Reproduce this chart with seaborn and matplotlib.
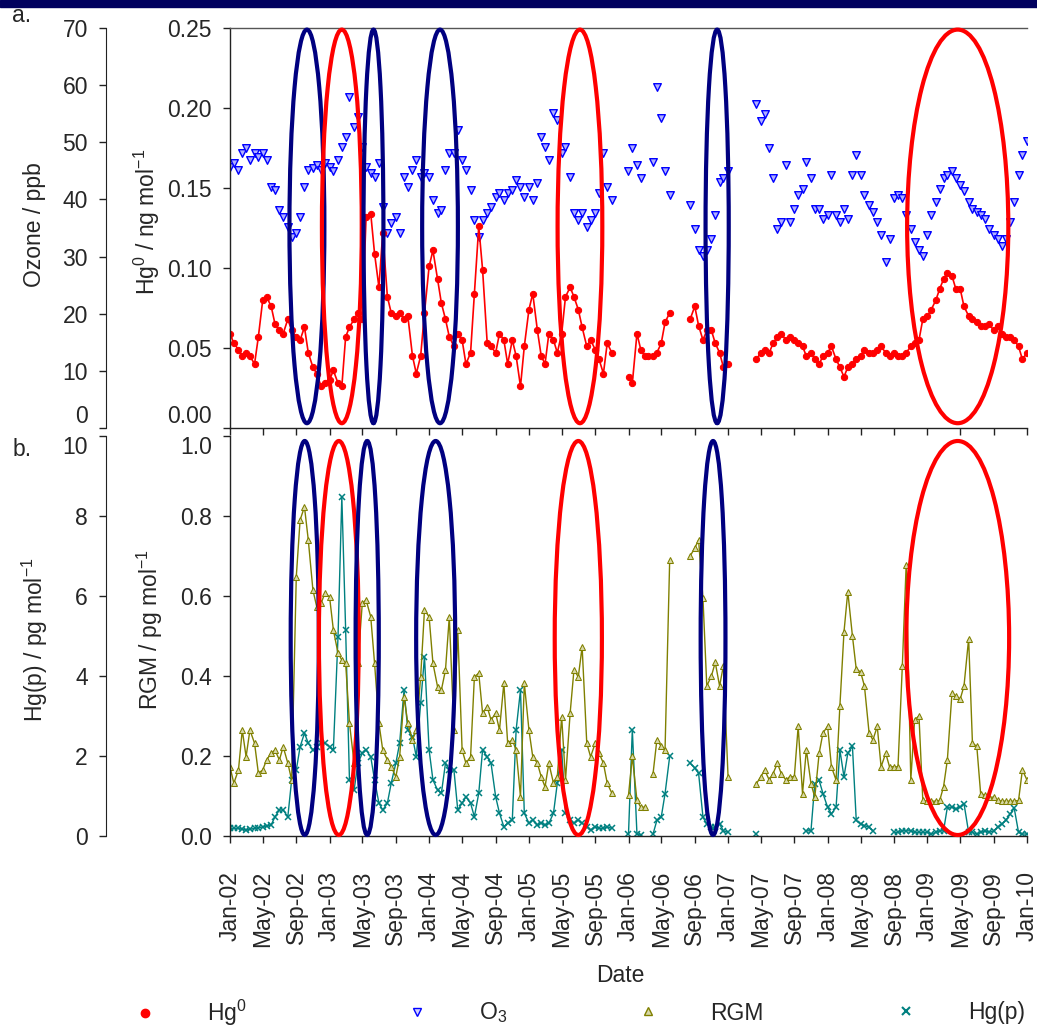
import numpy as np
import pandas as pd
import seaborn as sns
import matplotlib.pyplot as plt
import matplotlib.dates as mdates
from matplotlib.patches import Ellipse, Rectangle
from matplotlib.lines import Line2D
from matplotlib.ticker import FormatStrFormatter

nan = np.nan

# muestras quincenales (dia 1 y 15), ene-2002 .. ene-2010
fechas = pd.date_range("2002-01-01", "2010-01-01", freq="SMS")

# O3 (ppb)
o3 = [45.7, 46.4, 45.1, 48.1, 49.0, 46.9, 48.1, 47.5, 48.1, 46.9, 42.2, 41.6, 38.2, 37.0, 35.2, 33.5, 34.1, 37.0, 42.2, 45.1, 45.5, 46.0, 45.1, 46.4,
      45.7, 44.9, 46.9, 49.2, 51.0, 58.0, 52.7, 54.5, 49.2, 45.7, 44.6, 44.0, 46.4, 38.7, 34.1, 35.8, 37.0, 34.1, 44.0, 42.2, 45.1, 46.9, 44.0, 44.6,
      44.0, 39.9, 37.6, 38.2, 45.1, 48.1, 48.1, 52.2, 46.9, 45.1, 41.6, 36.4, 33.5, 36.4, 37.6, 38.7, 40.5, 41.1, 39.9, 41.1, 41.6, 43.4, 42.2, 40.5,
      42.2, 39.9, 42.9, 51.0, 49.2, 46.9, 55.1, 53.9, 48.1, 49.2, 44.0, 37.6, 36.4, 37.6, 35.2, 36.4, 37.6, 41.1, 48.1, 42.2, 39.9, nan, nan, nan,
      44.9, 49.0, 46.1, 43.8, nan, nan, 46.6, 59.6, 54.3, 44.9, 40.8, nan, nan, nan, nan, 39.0, 34.8, 31.2, 30.1, 31.2, 33.1, 37.2, 43.1, 43.7,
      44.9, nan, nan, nan, nan, nan, nan, 56.7, 53.7, 54.9, 49.0, 43.7, 34.8, 36.0, 46.1, 36.0, 38.4, 40.8, 41.9, 46.6, 43.7, 38.4, 38.4, 36.6,
      37.2, 44.3, 37.2, 36.0, 38.4, 36.6, 44.3, 47.8, 44.3, 40.8, 39.0, 37.8, 36.0, 33.7, 29.0, 33.1, 40.2, 40.8, 40.2, 37.2, 34.8, 32.5, 31.2, 30.1,
      33.7, 37.2, 39.6, 41.9, 43.7, 44.3, 44.9, 43.7, 42.5, 41.4, 39.6, 38.4, 37.8, 37.2, 36.6, 34.8, 33.7, 33.1, 31.9, 33.1, 36.0, 39.6, 44.3, 47.8,
      50.2]

# Hg0 (ng/mol)
hg0 = [0.059, 0.053, 0.049, 0.045, 0.047, 0.045, 0.040, 0.057, 0.080, 0.082, 0.076, 0.065, 0.061, 0.059, 0.068, 0.061, 0.057, 0.055, 0.063, 0.047, 0.038, 0.034, 0.026, 0.028,
       0.030, 0.036, 0.028, 0.026, 0.057, 0.063, 0.068, 0.072, 0.068, 0.132, 0.134, 0.109, 0.088, 0.122, 0.082, 0.072, 0.070, 0.072, 0.068, 0.070, 0.045, 0.034, 0.045, 0.072,
       0.101, 0.111, 0.093, 0.078, 0.068, 0.057, 0.051, 0.059, 0.055, 0.040, 0.047, 0.084, 0.126, 0.099, 0.053, 0.051, 0.047, 0.059, 0.055, 0.040, 0.055, 0.045, 0.026, 0.051,
       0.074, 0.084, 0.061, 0.045, 0.040, 0.059, 0.055, 0.047, 0.059, 0.082, 0.088, 0.082, 0.074, 0.063, 0.051, 0.055, 0.049, 0.043, 0.034, 0.053, 0.047, nan, nan, nan,
       0.032, 0.028, 0.059, 0.049, 0.045, 0.045, 0.045, 0.047, 0.053, 0.066, 0.072, nan, nan, nan, nan, 0.068, 0.076, 0.064, 0.055, 0.061, 0.061, 0.053, 0.047, 0.038,
       0.040, nan, nan, nan, nan, nan, nan, 0.043, 0.047, 0.049, 0.047, 0.053, 0.057, 0.059, 0.055, 0.057, 0.055, 0.053, 0.051, 0.045, 0.047, 0.043, 0.040, 0.045,
       0.047, 0.051, 0.043, 0.038, 0.032, 0.038, 0.040, 0.043, 0.045, 0.049, 0.047, 0.047, 0.049, 0.051, 0.047, 0.045, 0.047, 0.045, 0.045, 0.047, 0.051, 0.053, 0.055, 0.068,
       0.070, 0.074, 0.080, 0.087, 0.093, 0.097, 0.095, 0.087, 0.087, 0.076, 0.070, 0.068, 0.066, 0.064, 0.064, 0.065, 0.061, 0.064, 0.059, 0.057, 0.057, 0.055, 0.051, 0.043,
       0.047]

# RGM (pg/mol)
rgm = [0.173, 0.132, 0.165, 0.265, 0.198, 0.265, 0.232, 0.157, 0.165, 0.19, 0.207, 0.215, 0.19, 0.223, 0.182, 0.14, 0.648, 0.79, 0.823, 0.74, 0.615, 0.573, 0.582, 0.607,
       0.598, 0.515, 0.457, 0.44, 0.432, 0.282, 0.182, 0.432, 0.582, 0.59, 0.548, 0.432, 0.282, 0.215, 0.19, 0.173, 0.148, 0.198, 0.348, 0.282, 0.24, 0.265, 0.398, 0.565,
       0.548, 0.432, 0.373, 0.365, 0.415, 0.548, 0.265, 0.515, 0.215, 0.182, 0.198, 0.398, 0.407, 0.307, 0.323, 0.29, 0.307, 0.265, 0.382, 0.232, 0.24, 0.215, 0.098, 0.382,
       0.265, 0.198, 0.182, 0.148, 0.123, 0.182, 0.132, 0.148, 0.298, 0.14, 0.307, 0.415, 0.398, 0.473, 0.232, 0.198, 0.232, 0.207, 0.182, 0.132, 0.107, nan, nan, nan,
       0.102, 0.199, 0.089, 0.072, 0.072, nan, 0.156, 0.24, 0.224, 0.216, 0.69, nan, nan, nan, nan, 0.70, 0.72, 0.74, 0.594, 0.375, 0.40, 0.434, 0.375, 0.426,
       0.148, nan, nan, nan, nan, nan, nan, 0.131, 0.148, 0.165, 0.14, 0.156, 0.182, 0.156, 0.14, 0.148, 0.148, 0.274, 0.106, 0.216, 0.131, 0.097, 0.207, 0.258,
       0.274, 0.173, 0.14, 0.325, 0.51, 0.611, 0.50, 0.417, 0.41, 0.375, 0.258, 0.24, 0.274, 0.173, 0.207, 0.173, 0.173, 0.173, 0.426, 0.678, 0.14, 0.291, 0.30, 0.089,
       0.087, 0.087, 0.087, 0.089, 0.123, 0.19, 0.358, 0.35, 0.342, 0.375, 0.493, 0.232, 0.224, 0.106, 0.102, 0.097, 0.097, 0.089, 0.087, 0.087, 0.087, 0.087, 0.089, 0.165,
       0.14]

# Hg(p) (pg/mol)
hgp = [0.19, 0.19, 0.19, 0.17, 0.15, 0.17, 0.19, 0.2, 0.23, 0.25, 0.28, 0.48, 0.65, 0.65, 0.48, 1.4, 1.65, 2.23, 2.57, 2.32, 2.15, 2.23, 2.32, 2.32,
       2.23, 2.15, 4.98, 8.48, 5.15, 1.4, 1.15, 1.82, 2.07, 2.15, 1.98, 1.4, 0.82, 0.65, 0.82, 1.32, 1.82, 2.32, 3.65, 2.65, 2.48, 1.98, 3.32, 4.48,
       2.15, 1.4, 1.15, 1.07, 1.82, 1.65, 1.65, 0.65, 0.82, 0.98, 0.82, 0.48, 1.07, 2.15, 1.98, 1.82, 0.98, 0.57, 0.23, 0.32, 0.4, 2.65, 3.65, 0.57,
       0.32, 0.4, 0.28, 0.32, 0.28, 0.32, 0.57, 1.32, 2.15, 0.57, 0.4, 0.32, 0.4, 0.32, 0.23, 0.15, 0.23, 0.19, 0.19, 0.23, 0.19, nan, nan, nan,
       0.05, 2.66, 0.05, 0.02, nan, nan, 0.05, 0.39, 0.47, 1.06, 1.99, nan, nan, nan, nan, 1.82, 1.7, 1.57, 0.47, 0.3, 0.22, 0.22, 0.3, 0.13,
       0.09, nan, nan, nan, nan, nan, nan, 0.05, nan, nan, nan, nan, nan, nan, nan, nan, nan, nan, nan, 0.13, 0.13, 1.31, 1.39, 1.06,
       0.72, 0.55, 0.72, 2.15, 1.48, 2.07, 2.24, 0.39, 0.3, 0.26, 0.22, 0.13, nan, nan, nan, nan, 0.09, 0.09, 0.13, 0.13, 0.13, 0.09, 0.09, 0.09,
       0.09, 0.05, 0.09, 0.13, 0.13, 0.72, 0.72, 0.68, 0.72, 0.81, 0.09, 0.09, 0.05, 0.09, 0.13, 0.09, 0.13, 0.22, 0.3, 0.39, 0.55, 0.70, 0.09, 0.05,
       0.05]

# periodos marcados: (centro, ancho en dias, color)
elipses_a = [("2002-10-10", 128, "navy"), ("2003-02-15", 146, "red"), ("2003-06-11", 73, "navy"),
             ("2004-02-10", 131, "navy"), ("2005-07-07", 164, "red"), ("2006-11-22", 85, "navy"),
             ("2009-04-22", 371, "red")]
elipses_b = [("2002-10-02", 103, "navy"), ("2003-02-04", 146, "red"), ("2003-05-19", 85, "navy"),
             ("2004-01-25", 143, "navy"), ("2005-07-01", 173, "red"), ("2006-11-07", 91, "navy"),
             ("2009-04-22", 377, "red")]


def tramos(valores):
    v = np.array(valores, dtype=float)
    df = pd.DataFrame({"fecha": fechas, "valor": v, "tramo": np.cumsum(np.isnan(v))})
    return df.dropna()


sns.set_style("ticks")
plt.rcParams["font.family"] = ["Liberation Sans", "DejaVu Sans"]
plt.rcParams["mathtext.fontset"] = "custom"
plt.rcParams["mathtext.rm"] = "Liberation Sans"
plt.rcParams["mathtext.it"] = "Liberation Sans:italic"
plt.rcParams["mathtext.bf"] = "Liberation Sans:bold"
FS = 16.5

W, H = 1037, 1031
def caja(x0, y0, x1, y1):
    return [x0 / W, 1 - y1 / H, (x1 - x0) / W, (y1 - y0) / H]

fig = plt.figure(figsize=(10.37, 10.31), dpi=100)
fig.add_artist(Rectangle((0, 1 - 7 / H), 1, 7 / H, transform=fig.transFigure,
                         color="#00005E", zorder=10))

ax_a = fig.add_axes(caja(230, 28, 1027, 428))
ax_o3 = ax_a.twinx()
ax_b = fig.add_axes(caja(230, 436, 1027, 836))
ax_hp = ax_b.twinx()
ax_oa = fig.add_axes(caja(106, 28, 107, 428))
ax_ob = fig.add_axes(caja(106, 436, 107, 836))

# panel a
sns.scatterplot(data=tramos(o3), x="fecha", y="valor", marker="v", s=30, color="#B0B0FF",
                edgecolor="#0000FF", linewidth=1.0, ax=ax_o3, legend=False)
sns.lineplot(data=tramos(hg0), x="fecha", y="valor", units="tramo", estimator=None,
             color="#FF0000", lw=1.2, marker="o", markersize=4.5, markeredgecolor="#FF0000",
             ax=ax_a, legend=False)
# panel b
sns.lineplot(data=tramos(hgp), x="fecha", y="valor", units="tramo", estimator=None,
             color="#008080", lw=1.0, marker="x", markersize=4, markeredgewidth=1.1,
             markeredgecolor="#008080", ax=ax_hp, legend=False)
sns.lineplot(data=tramos(rgm), x="fecha", y="valor", units="tramo", estimator=None,
             color="#808000", lw=1.0, marker="^", markersize=5, markerfacecolor="#D8D8A8",
             markeredgecolor="#808000", ax=ax_b, legend=False)

for ax, tw in [(ax_a, ax_o3), (ax_b, ax_hp)]:
    ax.set_zorder(tw.get_zorder() + 1)
    ax.patch.set_visible(False)
    tw.axis("off")

ax_a.set_ylim(0, 0.25)
ax_o3.set_ylim(0, 70)
ax_b.set_ylim(0, 1.0)
ax_hp.set_ylim(0, 10)

x0, x1 = pd.Timestamp("2002-01-01"), pd.Timestamp("2010-01-01")
for ax in [ax_a, ax_o3, ax_b, ax_hp]:
    ax.set_xlim(x0, x1)

for ax, elips, yc, h in [(ax_a, elipses_a, 0.126, 0.246), (ax_b, elipses_b, 0.495, 0.985)]:
    for centro, ancho, col in elips:
        ax.add_patch(Ellipse((mdates.date2num(pd.Timestamp(centro)), yc), ancho, h,
                             fill=False, edgecolor="#000080" if col == "navy" else "#FF0000",
                             lw=3.0, zorder=20, clip_on=False))

for ax in [ax_a, ax_b]:
    ax.set_xlabel("")
    ax.set_ylabel("")
    ax.xaxis.set_major_locator(mdates.MonthLocator(bymonth=[1, 5, 9]))
    ax.xaxis.set_major_formatter(mdates.DateFormatter("%b-%y"))
    ax.spines["right"].set_visible(False)
    for s in ["left", "bottom", "top"]:
        ax.spines[s].set_linewidth(1.0)
        ax.spines[s].set_color("#222222")
    ax.tick_params(axis="both", direction="out", length=5, width=1, labelsize=FS,
                   color="#222222", pad=8)

ax_a.spines["top"].set_color("#555555")
ax_b.spines["top"].set_visible(False)
ax_a.tick_params(axis="x", labelbottom=False)
ax_b.tick_params(axis="x", labelrotation=90, pad=20)
for lab in ax_b.get_xticklabels():
    lab.set_verticalalignment("top")

ax_a.set_yticks([0, 0.05, 0.10, 0.15, 0.20, 0.25])
ax_a.yaxis.set_major_formatter(FormatStrFormatter("%.2f"))
ax_b.set_yticks([0, 0.2, 0.4, 0.6, 0.8, 1.0])
ax_b.yaxis.set_major_formatter(FormatStrFormatter("%.1f"))

for ax, top, paso in [(ax_oa, 70, 10), (ax_ob, 10, 2)]:
    ax.set_ylim(0, top)
    ax.set_yticks(np.arange(0, top + paso, paso))
    ax.set_xticks([])
    ax.patch.set_visible(False)
    for s in ["right", "top", "bottom"]:
        ax.spines[s].set_visible(False)
    ax.spines["left"].set_color("#222222")
    ax.tick_params(axis="y", direction="out", length=5, width=1, labelsize=FS,
                   color="#222222", pad=8)

# separar las etiquetas que se juntan entre los dos paneles
fig.canvas.draw()
for ax in [ax_a, ax_oa]:
    ax.get_yticklabels()[0].set_verticalalignment("bottom")
for ax in [ax_b, ax_ob]:
    ax.get_yticklabels()[-1].set_verticalalignment("top")

# textos
fig.text(22 / W, 1 - 16 / H, "a.", fontsize=FS, ha="center", va="center")
fig.text(22 / W, 1 - 450 / H, "b.", fontsize=FS, ha="center", va="center")
fig.text(35 / W, 1 - 225 / H, "Ozone / ppb", rotation=90, fontsize=FS, ha="center", va="center")
fig.text(147 / W, 1 - 222 / H, r"Hg$^0$ / ng mol$^{-1}$", rotation=90, fontsize=FS, ha="center", va="center")
fig.text(35 / W, 1 - 640 / H, r"Hg(p) / pg mol$^{-1}$", rotation=90, fontsize=FS, ha="center", va="center")
fig.text(150 / W, 1 - 630 / H, r"RGM / pg mol$^{-1}$", rotation=90, fontsize=FS, ha="center", va="center")
fig.text(620 / W, 1 - 975 / H, "Date", fontsize=FS, ha="center", va="center")

# leyenda
entradas = [
    (145, Line2D([], [], ls="none", marker="o", markersize=6, color="#FF0000"), r"Hg$^0$"),
    (417, Line2D([], [], ls="none", marker="v", markersize=6, markerfacecolor="#D0D0FF",
                 markeredgecolor="#0000FF"), r"O$_3$"),
    (648, Line2D([], [], ls="none", marker="^", markersize=6, markerfacecolor="#D8D8A8",
                 markeredgecolor="#808000"), "RGM"),
    (906, Line2D([], [], ls="none", marker="x", markersize=6, markeredgewidth=1.5,
                 color="#008080"), "Hg(p)"),
]
for xm, h, lab in entradas:
    fig.legend(handles=[h], labels=[lab], loc="center left",
               bbox_to_anchor=((xm - 11.5) / W, 1 - 1013 / H), frameon=False,
               handlelength=1.0, handletextpad=2.2, borderpad=0, borderaxespad=0,
               fontsize=FS)

fig.savefig("out.png", dpi=100)
